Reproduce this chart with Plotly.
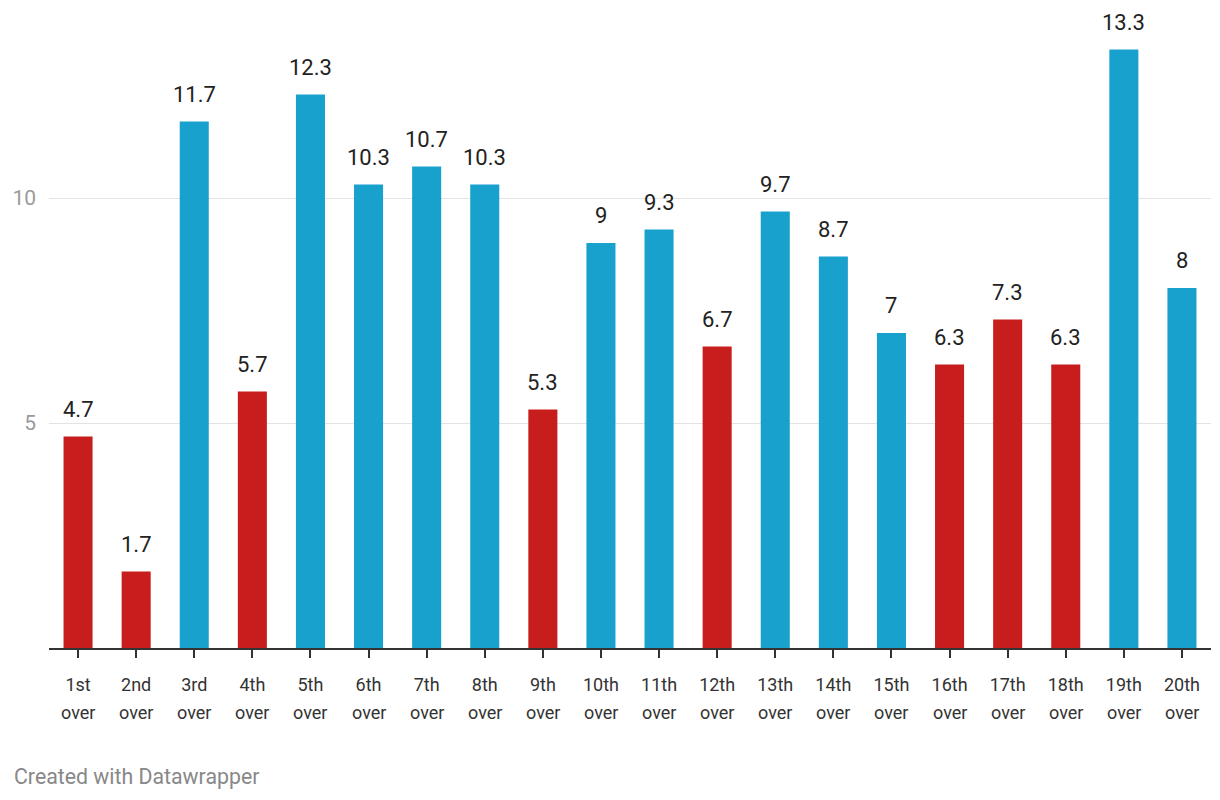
import plotly.graph_objects as go

overs = ["1st over", "2nd over", "3rd over", "4th over", "5th over", "6th over", "7th over",
         "8th over", "9th over", "10th over", "11th over", "12th over", "13th over", "14th over",
         "15th over", "16th over", "17th over", "18th over", "19th over", "20th over"]
ordinals = [o.split(" ")[0] for o in overs]
runs = [4.7, 1.7, 11.7, 5.7, 12.3, 10.3, 10.7, 10.3, 5.3, 9, 9.3, 6.7, 9.7, 8.7, 7, 6.3, 7.3, 6.3, 13.3, 8]
highlight = [True, True, False, True, False, False, False, False, True, False,
             False, True, False, False, False, True, True, True, False, False]
y_ticks = [5, 10]

RED = "#c71e1d"
BLUE = "#18a1cd"
FONT = "Roboto"

colors = [RED if h else BLUE for h in highlight]

fig = go.Figure()
fig.add_trace(go.Bar(
    x=overs, y=runs, marker=dict(color=colors, line=dict(width=0)),
    hoverinfo="x+y", cliponaxis=False,
))

annotations = []
for o, v in zip(overs, runs):
    annotations.append(dict(
        x=o, y=v, xref="x", yref="y", text=f"{v:g}", showarrow=False,
        yanchor="bottom", yshift=13,
        font=dict(family=FONT, size=22, color="#222222", shadow="0px 0px 4px white"),
    ))
    # second line of the category label
    annotations.append(dict(
        x=o, y=0, xref="x", yref="paper", text=o.split(" ", 1)[1], showarrow=False,
        yanchor="middle", yshift=-64,
        font=dict(family=FONT, size=18, color="#333333"),
    ))
annotations.append(dict(
    x=0, y=(648 - 776) / 600, xref="paper", yref="paper", xanchor="left", yanchor="middle",
    xshift=-37, text="Created with Datawrapper", showarrow=False,
    font=dict(family=FONT, size=21.3, color="#888888"),
))

fig.update_layout(
    width=1213, height=792,
    margin=dict(l=41, r=10, t=40, b=152),
    paper_bgcolor="white", plot_bgcolor="white",
    bargap=0.5, showlegend=False,
    font=dict(family=FONT, color="#333333"),
    annotations=annotations,
)
fig.update_xaxes(
    type="category", categoryorder="array", categoryarray=overs,
    tickvals=overs, ticktext=ordinals, range=[-0.5, len(overs) - 0.5],
    showline=True, linecolor="#333333", linewidth=2,
    ticks="outside", ticklen=8, tickwidth=2, tickcolor="#333333",
    ticklabelstandoff=11,
    tickfont=dict(family=FONT, size=18, color="#333333"),
    showgrid=False, zeroline=False, automargin=False,
)
fig.update_yaxes(
    range=[0, 600 / 45], tickvals=y_ticks, ticktext=[str(t) for t in y_ticks],
    showgrid=True, gridcolor="#e3e3e3", gridwidth=1, zeroline=False,
    ticks="", ticklabelstandoff=12, automargin=False,
    tickfont=dict(family=FONT, size=21, color="#9a9a9a"),
    showline=False,
)

fig.write_html("out.html")
